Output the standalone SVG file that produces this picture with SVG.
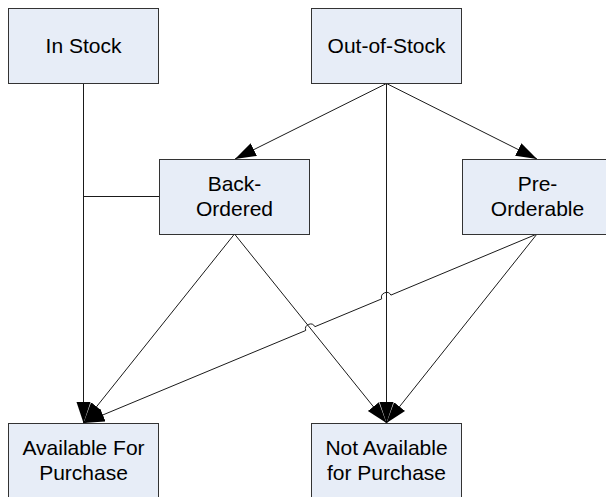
<svg xmlns="http://www.w3.org/2000/svg" width="606" height="497" viewBox="0 0 606 497">
  <style>
    .box rect { fill: #e7edf7; stroke: #333333; stroke-width: 1; }
    .box text { font-family: "Liberation Sans", Arial, sans-serif; font-size: 21px; fill: #000000; text-anchor: middle; }
    .edge { fill: none; stroke: #1a1a1a; stroke-width: 1; }
  </style>
  <defs>
    <marker id="arrow" markerUnits="userSpaceOnUse" markerWidth="22" markerHeight="16" refX="21" refY="7" orient="auto">
      <path d="M0,0 L21,7 L0,14 Z" fill="#000000"/>
    </marker>
  </defs>

  <rect x="0" y="0" width="606" height="497" fill="#ffffff"/>

  <!-- connectors -->
  <g id="connectors">
    <!-- In Stock -> Available For Purchase -->
    <path class="edge" d="M83.5,83.5 L83.5,423" marker-end="url(#arrow)"/>
    <!-- Back-Ordered joins the In Stock line -->
    <path class="edge" d="M159,196.5 L83.5,196.5"/>
    <!-- Out-of-Stock -> Back-Ordered -->
    <path class="edge" d="M386.5,83.5 L235,159" marker-end="url(#arrow)"/>
    <!-- Out-of-Stock -> Pre-Orderable -->
    <path class="edge" d="M386.5,83.5 L537,159" marker-end="url(#arrow)"/>
    <!-- Out-of-Stock -> Not Available for Purchase -->
    <path class="edge" d="M386.5,83.5 L386.5,423" marker-end="url(#arrow)"/>
    <!-- Back-Ordered -> Available For Purchase -->
    <path class="edge" d="M234.5,234 L83.5,423" marker-end="url(#arrow)"/>
    <!-- Back-Ordered -> Not Available for Purchase -->
    <path class="edge" d="M234.5,234 L386.5,423" marker-end="url(#arrow)"/>
    <!-- Pre-Orderable -> Available For Purchase, hopping over two lines -->
    <path class="edge" d="M537,234 L390.9,295.1 A5,5 0 0 0 381.7,298.9 L314.9,326.7 A5,5 0 0 0 305.7,330.5 L83.5,423" marker-end="url(#arrow)"/>
    <!-- Pre-Orderable -> Not Available for Purchase -->
    <path class="edge" d="M537,234 L386.5,423" marker-end="url(#arrow)"/>
  </g>

  <!-- nodes -->
  <g id="in-stock" class="box">
    <rect x="8.5" y="8.5" width="150" height="75"/>
    <text x="83.5" y="53">In Stock</text>
  </g>
  <g id="out-of-stock" class="box">
    <rect x="311.5" y="8.5" width="150" height="75"/>
    <text x="386.5" y="53">Out-of-Stock</text>
  </g>
  <g id="back-ordered" class="box">
    <rect x="159.5" y="159.5" width="150" height="75"/>
    <text x="234.5" y="191">Back-</text>
    <text x="234.5" y="216">Ordered</text>
  </g>
  <g id="pre-orderable" class="box">
    <rect x="462.5" y="159.5" width="150" height="75"/>
    <text x="537.5" y="191">Pre-</text>
    <text x="537.5" y="216">Orderable</text>
  </g>
  <g id="available" class="box">
    <rect x="8.5" y="423.5" width="150" height="75"/>
    <text x="83.5" y="455">Available For</text>
    <text x="83.5" y="480">Purchase</text>
  </g>
  <g id="not-available" class="box">
    <rect x="311.5" y="423.5" width="150" height="75"/>
    <text x="386.5" y="455">Not Available</text>
    <text x="386.5" y="480">for Purchase</text>
  </g>
</svg>
